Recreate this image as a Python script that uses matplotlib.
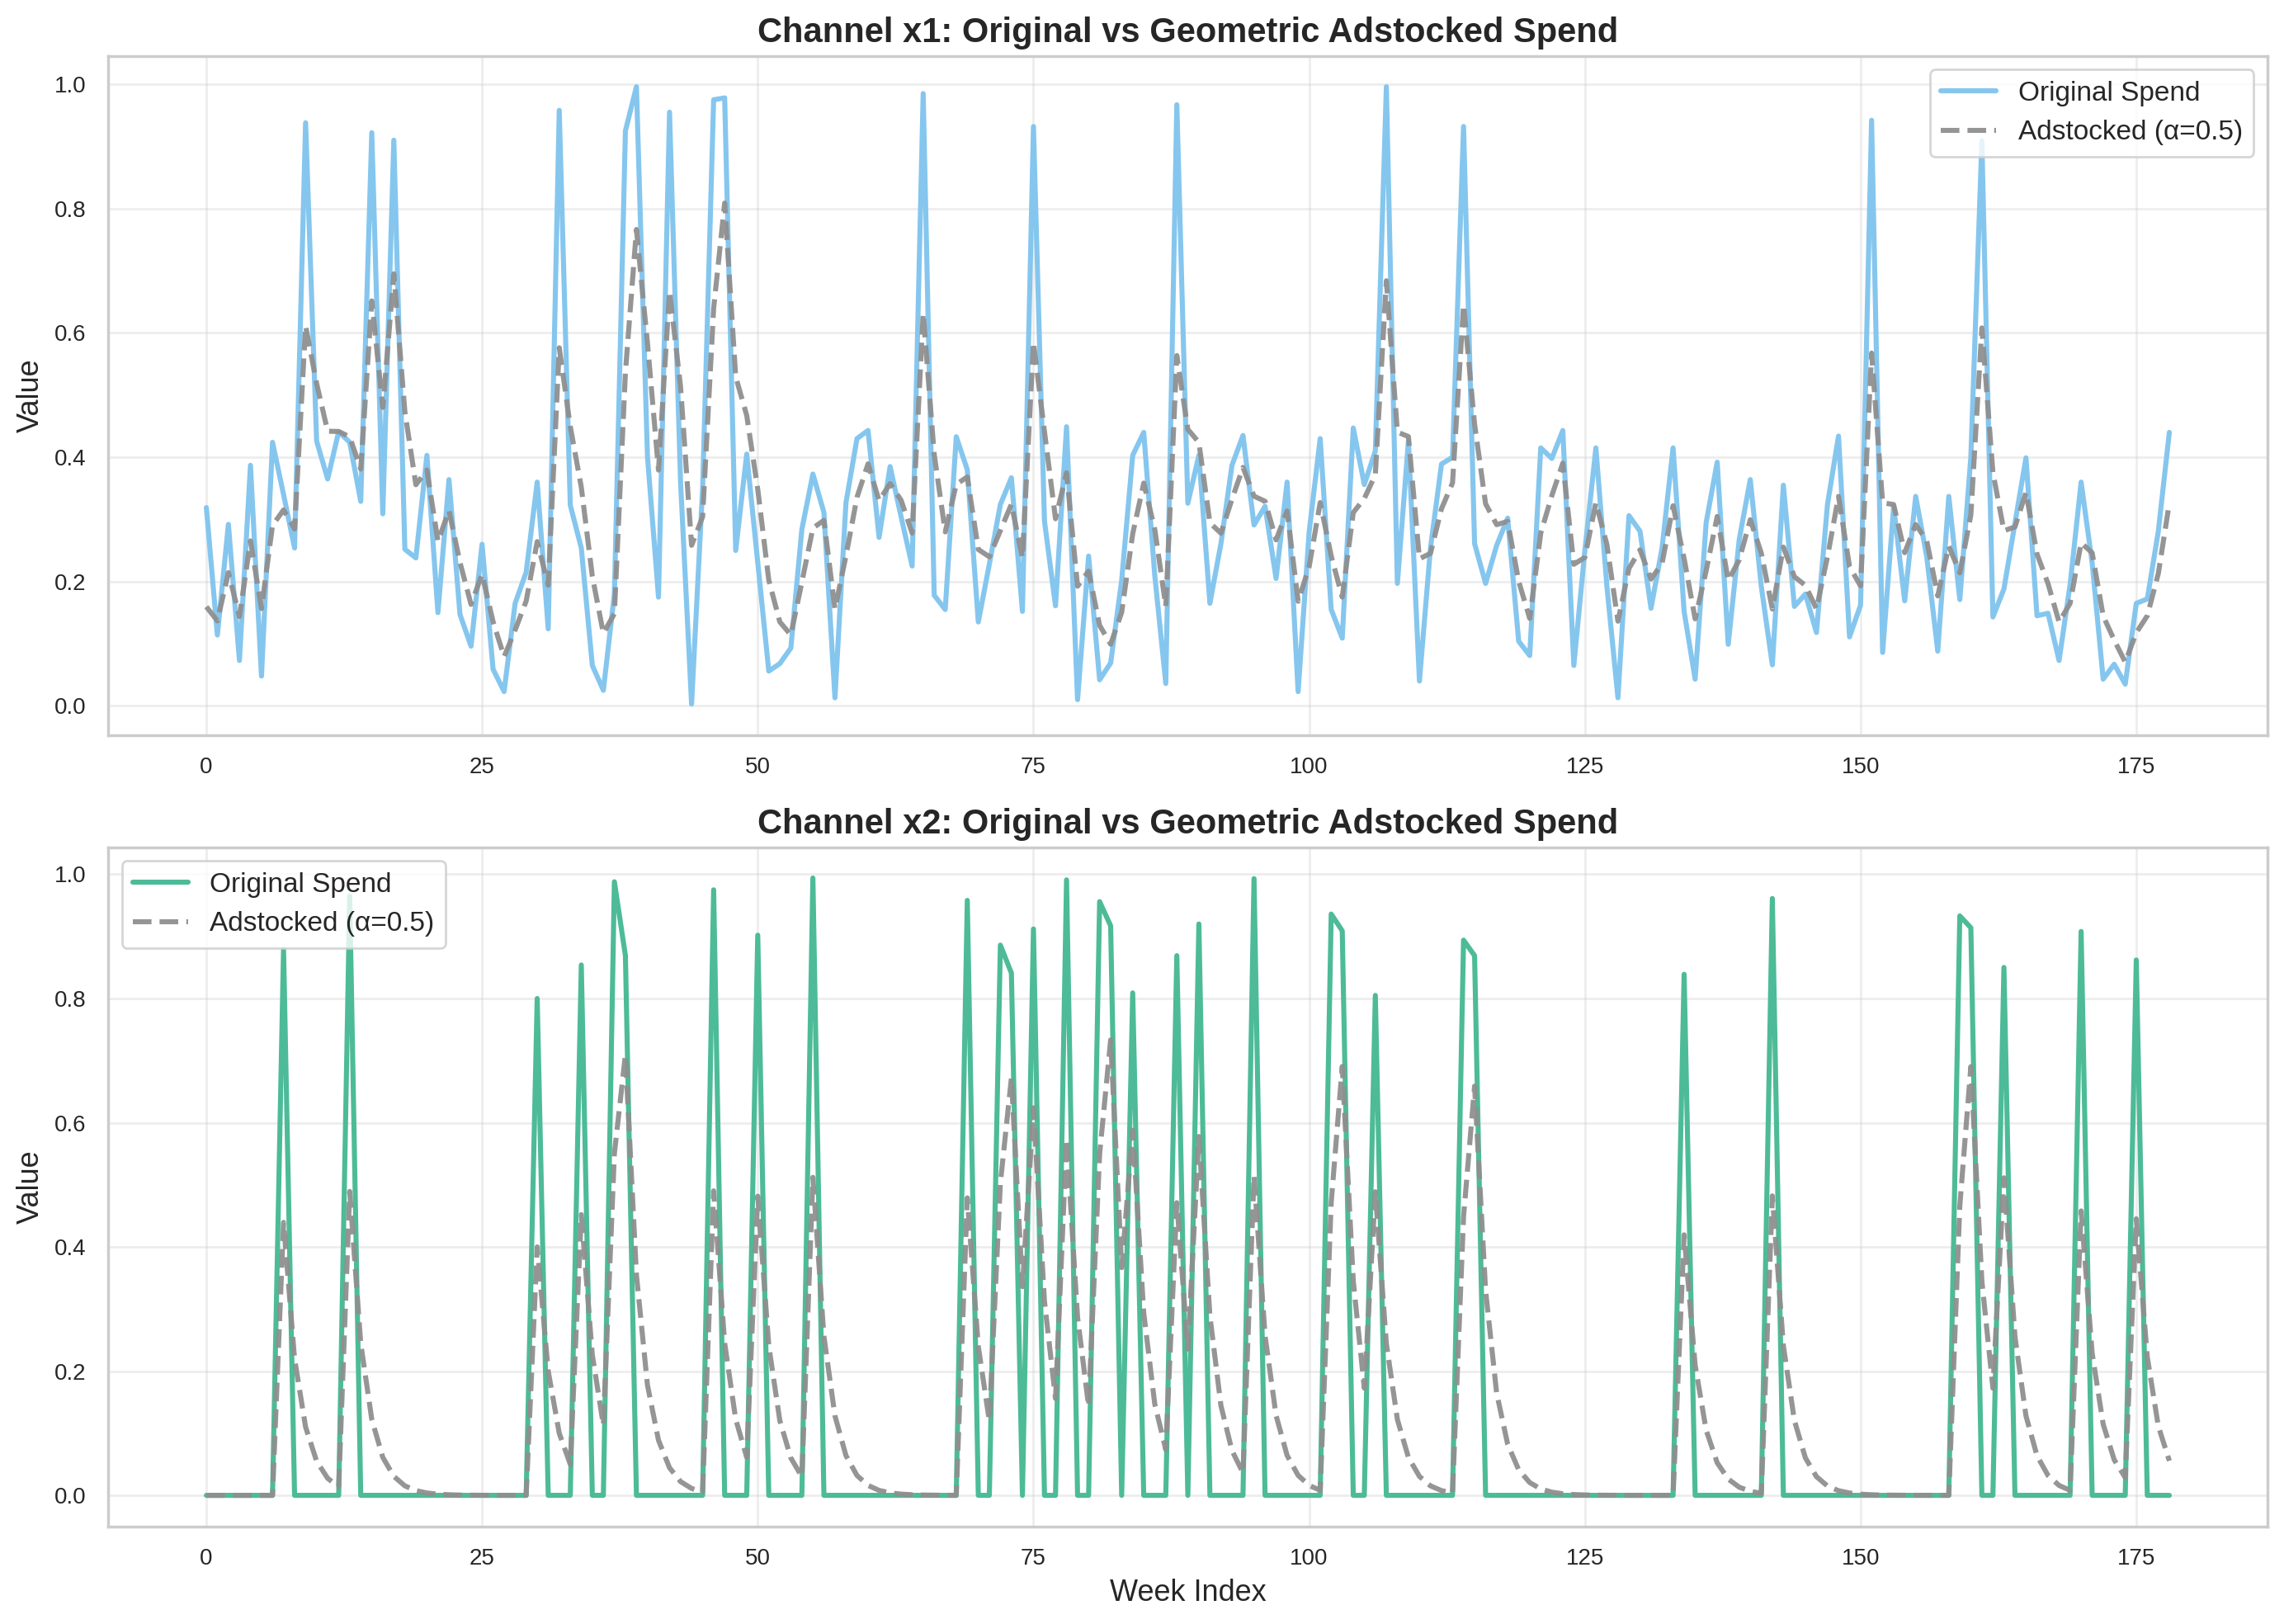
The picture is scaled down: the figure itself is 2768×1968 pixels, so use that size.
import numpy as np
import matplotlib
matplotlib.use("Agg")
import matplotlib.pyplot as plt
import seaborn as sns

sns.set_theme(style="whitegrid")
plt.rcParams['font.family'] = ['Liberation Sans', 'DejaVu Sans']

ALPHA = 0.5

x1_spend = [
    0.319, 0.114, 0.292, 0.073, 0.387, 0.048, 0.424, 0.340, 0.254, 0.938,
    0.426, 0.365, 0.441, 0.424, 0.329, 0.922, 0.309, 0.910, 0.252, 0.238,
    0.403, 0.150, 0.364, 0.147, 0.096, 0.260, 0.059, 0.023, 0.165, 0.215,
    0.360, 0.124, 0.958, 0.323, 0.254, 0.065, 0.025, 0.180, 0.925, 0.996,
    0.401, 0.175, 0.955, 0.360, 0.003, 0.350, 0.975, 0.978, 0.250, 0.405,
    0.230, 0.056, 0.068, 0.093, 0.284, 0.373, 0.311, 0.013, 0.327, 0.430,
    0.443, 0.271, 0.385, 0.304, 0.225, 0.985, 0.178, 0.155, 0.433, 0.380,
    0.135, 0.228, 0.324, 0.367, 0.152, 0.932, 0.297, 0.161, 0.449, 0.010,
    0.241, 0.042, 0.069, 0.202, 0.403, 0.440, 0.210, 0.036, 0.967, 0.326,
    0.403, 0.165, 0.261, 0.387, 0.435, 0.291, 0.321, 0.205, 0.360, 0.023,
    0.280, 0.430, 0.155, 0.109, 0.447, 0.356, 0.410, 0.996, 0.197, 0.426,
    0.040, 0.254, 0.389, 0.400, 0.932, 0.261, 0.197, 0.258, 0.302, 0.104,
    0.081, 0.415, 0.398, 0.443, 0.065, 0.250, 0.415, 0.192, 0.013, 0.306,
    0.281, 0.157, 0.254, 0.415, 0.152, 0.043, 0.295, 0.392, 0.099, 0.268,
    0.364, 0.192, 0.066, 0.355, 0.160, 0.180, 0.118, 0.324, 0.434, 0.111,
    0.162, 0.942, 0.086, 0.321, 0.169, 0.337, 0.240, 0.088, 0.337, 0.171,
    0.400, 0.909, 0.143, 0.188, 0.294, 0.399, 0.145, 0.149, 0.073, 0.195,
    0.360, 0.230, 0.043, 0.067, 0.035, 0.165, 0.172, 0.281, 0.440,
]

n_weeks = len(x1_spend)

# channel x2: zero spend except these weeks
x2_spike_weeks = [7, 13, 30, 34, 37, 38, 46, 50, 55, 69, 72, 73, 75, 78, 81, 82,
                  84, 88, 90, 95, 102, 103, 106, 114, 115, 134, 142, 159, 160,
                  163, 170, 175]
x2_spike_values = [0.879, 0.965, 0.800, 0.854, 0.988, 0.869, 0.975, 0.902, 0.994,
                   0.958, 0.886, 0.841, 0.912, 0.991, 0.956, 0.917, 0.809, 0.869,
                   0.920, 0.993, 0.936, 0.909, 0.805, 0.894, 0.869, 0.839, 0.961,
                   0.933, 0.914, 0.850, 0.908, 0.862]

x2_spend = np.zeros(n_weeks)
x2_spend[x2_spike_weeks] = x2_spike_values


def geometric_adstock(x, alpha):
    out = np.zeros(len(x))
    carry = 0.0
    for t, v in enumerate(x):
        carry = (1 - alpha) * v + alpha * carry
        out[t] = carry
    return out


weeks = np.arange(n_weeks)
x1 = np.array(x1_spend)
a1 = geometric_adstock(x1, ALPHA)
a2 = geometric_adstock(x2_spend, ALPHA)

fig, axes = plt.subplots(2, 1, figsize=(14, 10), dpi=200)

panels = [
    ("x1", x1, a1, "#85C6EE", "upper right"),
    ("x2", x2_spend, a2, "#4DBB97", "upper left"),
]
for ax, (name, orig, ad, col, loc) in zip(axes, panels):
    ax.plot(weeks, orig, color=col, lw=2.2, label="Original Spend")
    ax.plot(weeks, ad, color="#8f8f8f", lw=2.2, ls="--", alpha=0.95,
            label=f"Adstocked (α={ALPHA})")
    ax.set_title(f"Channel {name}: Original vs Geometric Adstocked Spend",
                 fontsize=15, fontweight="bold")
    ax.set_ylabel("Value", fontsize=13)
    ax.tick_params(labelsize=10)
    ax.grid(True, alpha=0.35)
    for s in ax.spines.values():
        s.set_color("#cccccc")
    ax.legend(loc=loc, fontsize=12, frameon=True)

axes[1].set_xlabel("Week Index", fontsize=13)

fig.tight_layout()
fig.savefig("out.png", dpi=200, bbox_inches="tight")
